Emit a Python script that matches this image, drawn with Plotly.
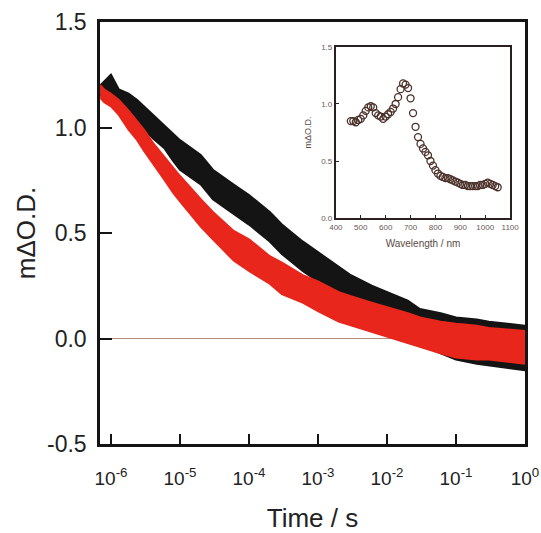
import plotly.graph_objects as go

# ---- main kinetics (envelopes of the noisy traces) ----
time_s = [7e-7, 8e-7, 1e-6, 1.3e-6, 1.8e-6, 2.4e-6, 3e-6, 4e-6, 6e-6, 8e-6,
          1e-5, 2e-5, 3e-5, 6e-5, 1e-4, 2e-4, 3e-4, 6e-4, 1e-3, 2e-3,
          3e-3, 6e-3, 1e-2, 2e-2, 3e-2, 6e-2, 0.1, 0.2, 0.3, 0.6, 1.0]

black_upper = [1.20, 1.22, 1.25, 1.18, 1.16, 1.13, 1.10, 1.06, 1.01, 0.97,
               0.94, 0.87, 0.80, 0.73, 0.68, 0.60, 0.54, 0.46, 0.41, 0.34,
               0.30, 0.25, 0.22, 0.18, 0.14, 0.12, 0.10, 0.09, 0.08, 0.07, 0.06]
black_lower = [1.15, 1.15, 1.17, 1.10, 1.06, 1.02, 0.99, 0.95, 0.90, 0.84,
               0.80, 0.73, 0.66, 0.59, 0.54, 0.46, 0.40, 0.32, 0.27, 0.21,
               0.16, 0.11, 0.07, 0.02, -0.03, -0.07, -0.10, -0.12, -0.13, -0.14, -0.15]

red_upper = [1.20, 1.18, 1.16, 1.13, 1.08, 1.03, 0.99, 0.93, 0.86, 0.81,
             0.77, 0.66, 0.60, 0.51, 0.47, 0.39, 0.36, 0.30, 0.27, 0.22,
             0.20, 0.17, 0.15, 0.12, 0.10, 0.08, 0.07, 0.06, 0.05, 0.04, 0.035]
red_lower = [1.14, 1.12, 1.10, 1.06, 0.99, 0.94, 0.89, 0.83, 0.75, 0.69,
             0.65, 0.53, 0.47, 0.37, 0.32, 0.26, 0.21, 0.17, 0.13, 0.08,
             0.06, 0.03, 0.01, -0.02, -0.04, -0.07, -0.09, -0.10, -0.10, -0.11, -0.12]

x_tickvals = [1e-6, 1e-5, 1e-4, 1e-3, 1e-2, 1e-1, 1]
x_ticktext = ["10<sup>-6</sup>", "10<sup>-5</sup>", "10<sup>-4</sup>", "10<sup>-3</sup>",
              "10<sup>-2</sup>", "10<sup>-1</sup>", "10<sup>0</sup>"]
y_tickvals = [-0.5, 0.0, 0.5, 1.0, 1.5]

# ---- inset spectrum ----
wavelength_nm = [460, 470, 480, 490, 500, 510, 520, 530, 540, 550,
                 560, 570, 580, 590, 600, 610, 620, 630, 640, 650,
                 660, 670, 680, 690, 700, 710, 720, 730, 740, 750,
                 760, 770, 780, 790, 800, 810, 820, 830, 840, 850,
                 860, 870, 880, 890, 900, 910, 920, 930, 940, 950,
                 960, 970, 980, 990, 1000, 1010, 1020, 1030, 1040, 1050]
spectrum = [0.85, 0.85, 0.84, 0.86, 0.87, 0.90, 0.94, 0.97, 0.98, 0.97,
            0.92, 0.90, 0.89, 0.87, 0.89, 0.91, 0.93, 0.96, 1.00, 1.06,
            1.13, 1.18, 1.17, 1.14, 1.05, 0.92, 0.80, 0.71, 0.65, 0.61,
            0.58, 0.55, 0.50, 0.46, 0.42, 0.39, 0.37, 0.36, 0.35, 0.35,
            0.34, 0.33, 0.32, 0.31, 0.30, 0.29, 0.29, 0.28, 0.28, 0.28,
            0.28, 0.28, 0.29, 0.29, 0.30, 0.31, 0.30, 0.29, 0.28, 0.27]

FONT = "Liberation Sans, Arial, sans-serif"
BLACK = "#141414"
RED = "#e8261c"

fig = go.Figure()


def band(upper, lower, color):
    fig.add_trace(go.Scatter(
        x=time_s + time_s[::-1], y=upper + lower[::-1],
        mode="lines", fill="toself", fillcolor=color,
        line=dict(color=color, width=2), hoverinfo="skip",
        xaxis="x", yaxis="y", showlegend=False))


band(black_upper, black_lower, BLACK)
band(red_upper, red_lower, RED)

fig.add_trace(go.Scatter(
    x=wavelength_nm, y=spectrum, mode="markers",
    marker=dict(symbol="circle-open", size=7, color="#4a3028", line=dict(width=1.3)),
    xaxis="x2", yaxis="y2", showlegend=False))

fig.update_layout(
    width=541, height=533,
    margin=dict(l=100, r=16, t=22, b=89),
    paper_bgcolor="white", plot_bgcolor="white",
    font=dict(family=FONT, color="#222"),
    showlegend=False,
    xaxis=dict(
        type="log", range=[-6.159, 0], domain=[0, 1], automargin=False,
        showline=True, linecolor=BLACK, linewidth=2.5, mirror=True,
        ticks="inside", ticklen=10, tickwidth=2, tickcolor=BLACK,
        tickvals=x_tickvals, ticktext=x_ticktext,
        tickfont=dict(size=19, family=FONT, color="#222"),
        ticklabelstandoff=15,
        showgrid=False, zeroline=False,
        title=dict(text="Time / s", font=dict(size=26, family=FONT, color="#222"), standoff=22),
    ),
    yaxis=dict(
        range=[-0.5, 1.5], domain=[0, 1], automargin=False,
        showline=True, linecolor=BLACK, linewidth=2.5, mirror=True,
        ticks="inside", ticklen=12, tickwidth=2, tickcolor=BLACK,
        tickvals=y_tickvals, ticktext=["-0.5", "0.0", "0.5", "1.0", "1.5"],
        tickfont=dict(size=23, family=FONT, color="#222"),
        ticklabelstandoff=6,
        showgrid=False, zeroline=True, zerolinecolor="#b48c7c", zerolinewidth=1,
        title=dict(text="mΔO.D.", font=dict(size=26, family=FONT, color="#222"), standoff=4),
    ),
    xaxis2=dict(
        range=[400, 1100], domain=[0.555, 0.965], anchor="y2", automargin=False,
        showline=True, linecolor="#2a2020", linewidth=2, mirror=True,
        ticks="inside", ticklen=3, tickwidth=1, tickcolor="#2a2020",
        tickvals=[400, 500, 600, 700, 800, 900, 1000, 1100],
        tickfont=dict(size=8, family=FONT, color="#6a5a55"),
        showgrid=False, zeroline=False,
        title=dict(text="Wavelength / nm", font=dict(size=10, family=FONT, color="#5a4a45"), standoff=9),
    ),
    yaxis2=dict(
        range=[0, 1.5], domain=[0.5355, 0.9408], anchor="x2", automargin=False,
        showline=True, linecolor="#2a2020", linewidth=2, mirror=True,
        ticks="inside", ticklen=3, tickwidth=1, tickcolor="#2a2020",
        tickvals=[0.0, 0.5, 1.0, 1.5], ticktext=["0.0", "0.5", "1.0", "1.5"],
        tickfont=dict(size=8, family=FONT, color="#6a5a55"),
        showgrid=False, zeroline=False,
        title=dict(text="mΔO.D.", font=dict(size=9, family=FONT, color="#5a4a45"), standoff=8),
    ),
)

fig.write_html("out.html")
